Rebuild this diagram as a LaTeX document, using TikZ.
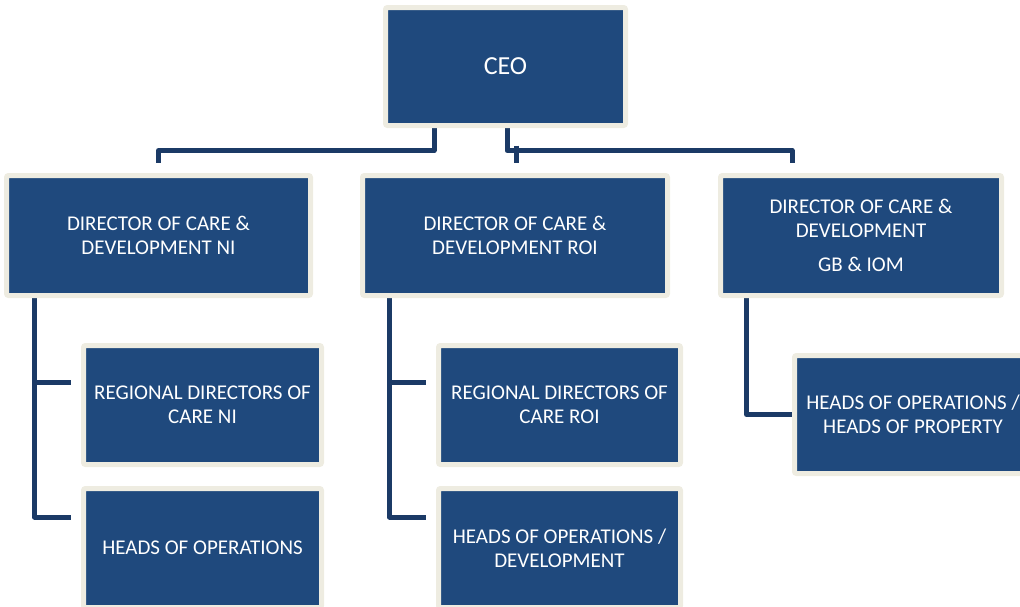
\documentclass[tikz,border=0pt]{standalone}
\usepackage{fontspec}
\setmainfont{Carlito}
\usetikzlibrary{positioning, backgrounds}
\definecolor{chartnavy}{RGB}{31,73,125}
\definecolor{chartline}{RGB}{27,58,102}
\definecolor{chartedge}{RGB}{238,236,225}
\tikzset{
  orgbox/.style={
    rectangle, rounded corners=2pt, draw=chartedge, line width=5pt,
    fill=chartnavy, text=white, align=center, inner sep=0pt,
    font=\fontsize{21}{24}\selectfont
  },
  link/.style={draw=chartline, line width=5pt, line join=round}
}

\begin{document}
\begin{tikzpicture}[x=1pt, y=-1pt]
  \useasboundingbox (0,0) rectangle (1020,606);

  % top level
  \node[orgbox, minimum width=240pt, minimum height=118pt,
        font=\fontsize{26}{30}\selectfont] (ceo) at (505.5,66.5) {CEO};

  % directors
  \node[orgbox, minimum width=304pt, minimum height=120pt] (nidir)  at (158.5,235.5)
    {DIRECTOR OF CARE \&\\DEVELOPMENT NI};
  \node[orgbox, minimum width=305pt, minimum height=120pt] (roidir) at (515,235.5)
    {DIRECTOR OF CARE \&\\DEVELOPMENT ROI};
  \node[orgbox, minimum width=281pt, minimum height=120pt] (gbdir)  at (861,235.5)
    {DIRECTOR OF CARE \&\\DEVELOPMENT\\[10pt]GB \& IOM};

  % reports
  \node[orgbox, minimum width=238pt, minimum height=119pt] (nireg)   at (202.5,405)
    {REGIONAL DIRECTORS OF\\CARE NI};
  \node[orgbox, minimum width=238pt, minimum height=119pt] (nihead)  at (202.5,548)
    {HEADS OF OPERATIONS};
  \node[orgbox, minimum width=242pt, minimum height=119pt] (roireg)  at (559.5,405)
    {REGIONAL DIRECTORS OF\\CARE ROI};
  \node[orgbox, minimum width=242pt, minimum height=119pt] (roihead) at (559.5,548)
    {HEADS OF OPERATIONS /\\DEVELOPMENT};
  \node[orgbox, minimum width=237pt, minimum height=118pt] (gbhead)  at (913,414.5)
    {HEADS OF OPERATIONS /\\HEADS OF PROPERTY};

  \begin{scope}[on background layer]
    % CEO to directors
    \draw[link] ([xshift=-71.5pt]ceo.south) -- ++(0,22.5) -| ([yshift=10.5pt]nidir.north);
    \draw[link] ([xshift=1.5pt]ceo.south) -- ++(0,22.5) -| ([xshift=-69pt,yshift=10.5pt]gbdir.north);
    \draw[link] ([xshift=1pt,yshift=27.5pt]roidir.north) -- ([xshift=1pt,yshift=10.5pt]roidir.north);

    % directors to their reports
    \draw[link] ([xshift=30.5pt]nidir.south west) |- ([xshift=-10.5pt,yshift=23pt]nireg.west);
    \draw[link] ([xshift=30.5pt]nidir.south west) |- ([xshift=-10.5pt,yshift=31pt]nihead.west);
    \draw[link] ([xshift=29.5pt]roidir.south west) |- ([xshift=-10.5pt,yshift=23pt]roireg.west);
    \draw[link] ([xshift=29.5pt]roidir.south west) |- ([xshift=-10.5pt,yshift=31pt]roihead.west);
    \draw[link] ([xshift=28.5pt]gbdir.south west) |- (gbhead.west);
  \end{scope}
\end{tikzpicture}
\end{document}
